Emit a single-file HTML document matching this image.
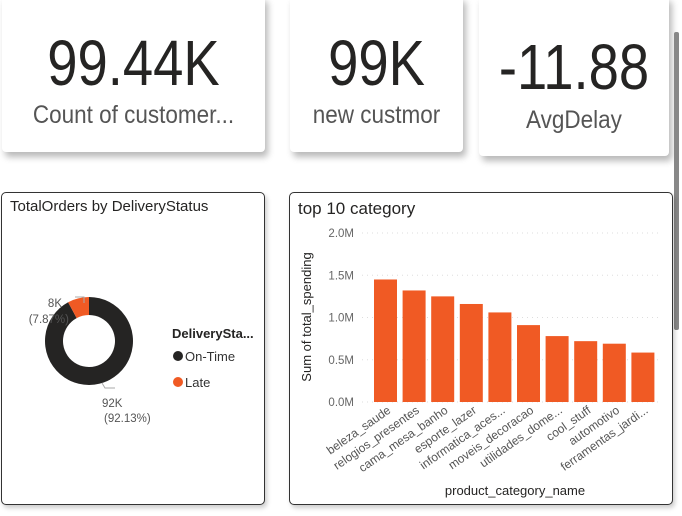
<!DOCTYPE html>
<html><head><meta charset="utf-8">
<style>
body{margin:0;width:682px;height:516px;background:#fff;position:relative;overflow:hidden;font-family:"Liberation Sans",sans-serif;}
.card{position:absolute;background:#fff;border-radius:4px;box-shadow:3px 5px 7px rgba(0,0,0,0.28);}
.num{position:absolute;left:0;right:0;text-align:center;font-size:64px;color:#252423;transform:scaleX(0.85);}
.lab{position:absolute;left:0;right:0;text-align:center;font-size:25px;color:#555;transform:scaleX(0.9);}
.panel{position:absolute;border:1.5px solid #333;border-radius:5px;background:#fff;box-shadow:2px 3px 5px rgba(0,0,0,0.2);}
</style></head><body>
<div class="card" style="left:2px;top:-4px;width:263px;height:156px;">
 <div class="num" style="top:30px;">99.44K</div>
 <div class="lab" style="top:105px;">Count of customer...</div>
</div>
<div class="card" style="left:290px;top:-4px;width:173px;height:156px;">
 <div class="num" style="top:30px;">99K</div>
 <div class="lab" style="top:105px;">new custmor</div>
</div>
<div class="card" style="left:479px;top:-4px;width:190px;height:160px;">
 <div class="num" style="top:34px;">-11.88</div>
 <div class="lab" style="top:110px;">AvgDelay</div>
</div>
<div style="position:absolute;left:674px;top:32px;width:5px;height:298px;background:#888;border-radius:2px;"></div>

<div class="panel" style="left:1px;top:192px;width:262px;height:311px;">
<svg width="262" height="311" id="donut">
 <text x="8" y="18" font-size="15" fill="#252423" font-family="Liberation Sans">TotalOrders by DeliveryStatus</text>
 <text x="170" y="145" font-size="13" font-weight="bold" fill="#252423">DeliverySta...</text>
 <circle cx="176" cy="163" r="5" fill="#252423"/>
 <text x="183" y="168" font-size="13" fill="#333">On-Time</text>
 <circle cx="176" cy="189" r="5" fill="#f05a24"/>
 <text x="183" y="194" font-size="13" fill="#333">Late</text>
</svg>
</div>

<div class="panel" style="left:289px;top:192px;width:382px;height:311px;">
<svg width="382" height="311" id="bars" font-family="Liberation Sans">
 <text x="8" y="21" font-size="17" fill="#252423">top 10 category</text>
 <text transform="translate(21,124) rotate(-90)" text-anchor="middle" font-size="13" fill="#252423">Sum of total_spending</text>
 <text x="225" y="302" text-anchor="middle" font-size="13" fill="#252423">product_category_name</text>
</svg>
</div>
<script>
const statusLabels=["On-Time","Late"];
const statusValues=[92.13,7.87];
const statusText=["92K","8K"];
const categories=["beleza_saude","relogios_presentes","cama_mesa_banho","esporte_lazer","informatica_aces...","moveis_decoracao","utilidades_dome...","cool_stuff","automotivo","ferramentas_jardi..."];
const spending=[1.45,1.32,1.25,1.16,1.06,0.91,0.78,0.72,0.69,0.585];
const yTicks=[0,0.5,1.0,1.5,2.0];
const NS="http://www.w3.org/2000/svg";
function mk(t,a,p){const e=document.createElementNS(NS,t);for(const k in a)e.setAttribute(k,a[k]);p.appendChild(e);return e;}
(function(){
 const svg=document.getElementById('donut');
 const cx=87,cy=148,R=44,r=26,colors=["#252423","#f05a24"];
 const total=statusValues.reduce((a,b)=>a+b,0);
 let a0=0;
 statusValues.forEach((v,i)=>{
  const a1=a0+v/total*2*Math.PI;
  const p=(ang,rad)=>[cx+rad*Math.sin(ang),cy-rad*Math.cos(ang)];
  const [x0,y0]=p(a0,R),[x1,y1]=p(a1,R),[x2,y2]=p(a1,r),[x3,y3]=p(a0,r);
  const lg=(a1-a0)>Math.PI?1:0;
  const s=mk('path',{d:`M${x0},${y0}A${R},${R} 0 ${lg} 1 ${x1},${y1}L${x2},${y2}A${r},${r} 0 ${lg} 0 ${x3},${y3}Z`,fill:colors[i]},svg);
  
  
  a0=a1;
 });
 const l1=mk('polyline',{points:"73,104 82,104 82,110",fill:"none",stroke:"#aaa"},svg);
 
 const l2=mk('polyline',{points:"100,190 103,195 113,195",fill:"none",stroke:"#aaa"},svg);
 
 const labs=[[statusText[1],60,114,"end"],["("+statusValues[1]+"%)",67,130,"end"],[statusText[0],100,214,"start"],["("+statusValues[0]+"%)",102,229,"start"]];
 labs.forEach((d)=>{const t=mk('text',{x:d[1],y:d[2],"font-size":11.5,fill:"#555","text-anchor":d[3]},svg);t.textContent=d[0];
  });
})();
(function(){
 const svg=document.getElementById('bars');
 const y0=209,y1=40,xl=84,pitch=28.6,bw=23;
 const ys=v=>y0-(v-yTicks[0])/(yTicks[yTicks.length-1]-yTicks[0])*(y0-y1);
 yTicks.forEach(v=>{
  const g=mk('line',{x1:72,x2:372,y1:ys(v),y2:ys(v),stroke:"#ddd","stroke-dasharray":"1,4"},svg);
  
  const t=mk('text',{x:64,y:ys(v)+4,"text-anchor":"end","font-size":11.5,fill:"#666"},svg);
  t.textContent=v.toFixed(1)+"M";
  
 });
 categories.forEach((c,i)=>{
  const x=xl+i*pitch;
  const b=mk('rect',{x:x,y:ys(spending[i]),width:bw,height:y0-ys(spending[i]),fill:"#f05a24"},svg);
  
  
  const t=mk('text',{transform:`translate(${x+bw/2+6},${y0+10}) rotate(-35)`,"text-anchor":"end","font-size":12,fill:"#555"},svg);
  t.textContent=c;
  
 });
})();
</script>
</body></html>
